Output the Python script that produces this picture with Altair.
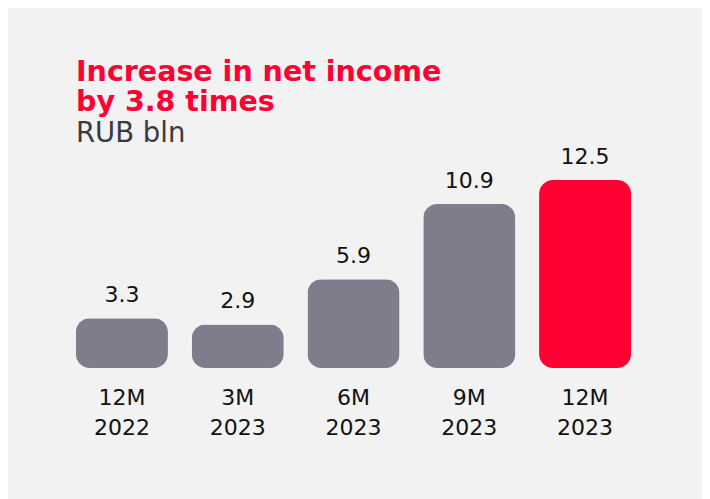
import altair as alt
import pandas as pd

periods = ["12M\n2022", "3M\n2023", "6M\n2023", "9M\n2023", "12M\n2023"]
values = [3.3, 2.9, 5.9, 10.9, 12.5]
labels = ["3.3", "2.9", "5.9", "10.9", "12.5"]
highlight = [False, False, False, False, True]

df = pd.DataFrame({"period": periods, "value": values, "label": labels, "hl": highlight})

FONT = "DejaVu Sans"

x = alt.X("period:N", sort=periods, title=None,
          scale=alt.Scale(paddingInner=0.205, paddingOuter=0.1025),
          axis=alt.Axis(labelAngle=0, domain=False, ticks=False, grid=False,
                        labelExpr="split(datum.label, '\\n')",
                        labelFont=FONT, labelFontSize=22, labelColor="#111111",
                        labelLineHeight=30, labelPadding=19))
y = alt.Y("value:Q", title=None, axis=None,
          scale=alt.Scale(domain=[0, 12.5], nice=False, zero=True))

bars = alt.Chart(df).mark_bar(cornerRadius=14).encode(
    x=x, y=y,
    color=alt.Color("hl:N", scale=alt.Scale(domain=[False, True], range=["#7f7d8c", "#ff0033"]), legend=None),
)

text = alt.Chart(df).mark_text(baseline="alphabetic", dy=-16, font=FONT, fontSize=22, color="#111111").encode(
    x=alt.X("period:N", sort=periods), y=y, text="label:N"
)

chart = alt.layer(bars, text).properties(
    width=579, height=188,
    autosize=alt.AutoSizeParams(type="none"),
    padding={"left": 56, "top": 172, "right": 59, "bottom": 131},
    background="#f2f2f2",
    title=alt.TitleParams(
        text=["Increase in net income", "by 3.8 times"],
        subtitle="RUB bln",
        anchor="start", frame="group", orient="top", dx=12, dy=1, offset=0,
        font=FONT, fontSize=28.5, fontWeight="bold", color="#ff0033", lineHeight=30,
        subtitleFont=FONT, subtitleFontSize=27.5, subtitleFontWeight="normal",
        subtitleColor="#3a3a40", subtitlePadding=3, subtitleLineHeight=28,
    ),
).configure_view(stroke=None)

chart.save("out.html", embed_options={"renderer": "svg", "actions": False})
